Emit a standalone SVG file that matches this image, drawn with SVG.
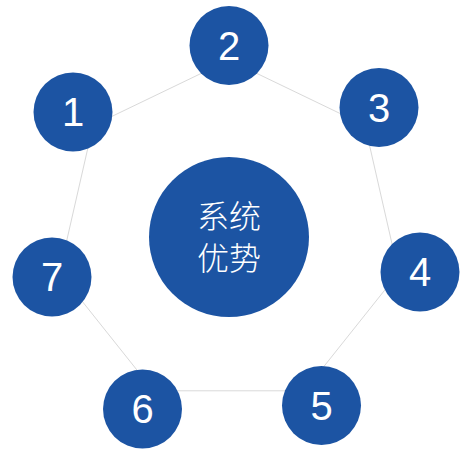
<svg xmlns="http://www.w3.org/2000/svg" width="467" height="461" viewBox="0 0 467 461">
<style>
.n{fill:#1c54a3}
.d{fill:#fff;font-family:"Liberation Sans",Arial,sans-serif;font-size:40px;text-anchor:middle}
.c{fill:#fff;font-family:"Noto Sans CJK SC","Noto Sans",sans-serif;font-weight:300;font-size:32px;text-anchor:middle}
.e{stroke:#d9d9d9;stroke-width:1;fill:none}
</style>
<rect width="467" height="461" fill="#fff"/>
<g id="connectors">
<polygon class="e" points="93,125.5 229,60 365,125.5 398.6,272.7 304.5,390.8 153.5,390.8 59.4,272.7"/>
</g>
<g id="center"><circle class="n" cx="229" cy="237" r="80"/><text class="c" x="229" y="228">系统</text><text class="c" x="229" y="270">优势</text></g>
<g id="n1"><circle class="n" cx="73" cy="112" r="39.5"/><text class="d" x="73" y="126">1</text></g>
<g id="n2"><circle class="n" cx="229" cy="45.5" r="39.5"/><text class="d" x="229" y="59.5">2</text></g>
<g id="n3"><circle class="n" cx="379" cy="107.5" r="39.5"/><text class="d" x="379" y="121.5">3</text></g>
<g id="n4"><circle class="n" cx="420" cy="272" r="39.5"/><text class="d" x="420" y="286">4</text></g>
<g id="n5"><circle class="n" cx="321.5" cy="405.5" r="39.5"/><text class="d" x="321.5" y="419.5">5</text></g>
<g id="n6"><circle class="n" cx="142.5" cy="409" r="39.5"/><text class="d" x="142.5" y="423">6</text></g>
<g id="n7"><circle class="n" cx="52" cy="277" r="39.5"/><text class="d" x="52" y="291">7</text></g>
</svg>
